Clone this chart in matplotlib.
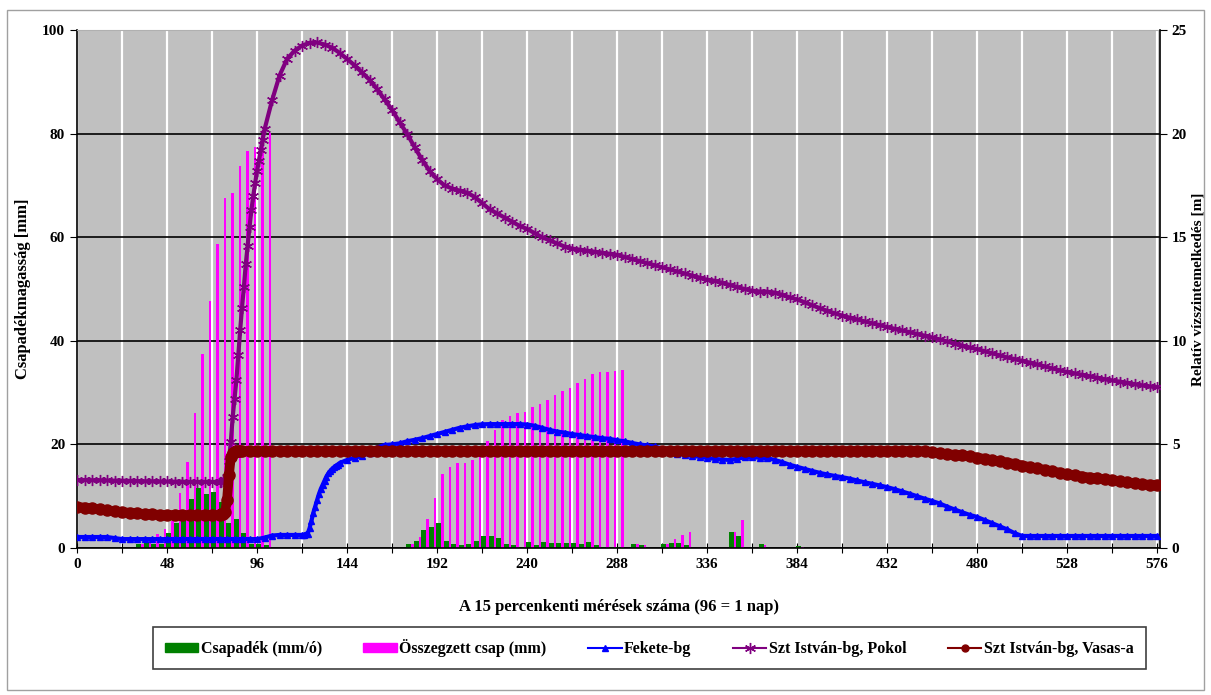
import numpy as np
import matplotlib.pyplot as plt
from matplotlib.patches import Patch, Rectangle
from matplotlib.lines import Line2D

plt.rcParams['font.family'] = ['Liberation Serif', 'DejaVu Serif']
plt.rcParams['font.weight'] = 'bold'

# hourly rain (mm/h), measurement index of each bar
rain_x = [33, 37, 41, 45, 49, 53, 57, 61, 65, 69, 73, 77, 81, 85, 89, 93, 97, 101,
          177, 181, 185, 189, 193, 197, 201, 205, 209, 213, 217, 221, 225, 229, 233,
          237, 241, 245, 249, 253, 257, 261, 265, 269, 273, 277, 281, 285, 289, 297, 301,
          313, 317, 321, 325, 349, 353, 365, 385]
rain_mm = [0.8, 1.2, 0.8, 0.8, 2.9, 4.8, 6.2, 9.5, 11.6, 10.5, 10.9, 8.9, 4.8, 5.6, 2.9, 0.8, 0.8, 0.5,
           0.7, 1.4, 3.5, 4.0, 4.8, 1.4, 0.7, 0.5, 0.7, 1.4, 2.3, 2.3, 2.0, 0.7, 0.5,
           0.2, 1.2, 0.5, 1.2, 1.0, 1.0, 1.0, 1.0, 0.8, 1.2, 0.5, 0.2, 0.2, 0.2, 0.7, 0.5,
           0.7, 1.0, 1.0, 0.6, 3.1, 2.3, 0.7, 0.3]

# summed rain (mm)
sum_x = [35, 39, 43, 47, 51, 55, 59, 63, 67, 71, 75, 79, 83, 87, 91, 95, 99, 103,
         179, 183, 187, 191, 195, 199, 203, 207, 211, 215, 219, 223, 227, 231, 235,
         239, 243, 247, 251, 255, 259, 263, 267, 271, 275, 279, 283, 287, 291, 299, 303,
         315, 319, 323, 327, 351, 355, 367, 387]
sum_mm = [0.8, 2.0, 2.8, 3.6, 5.2, 10.6, 16.6, 26.0, 37.4, 47.7, 58.7, 67.6, 68.5, 73.7, 76.6, 77.4, 79.7, 80.1,
          0.7, 2.1, 5.6, 9.7, 14.3, 15.6, 16.4, 16.4, 17.0, 18.5, 20.6, 22.8, 24.7, 25.5, 26.0,
          26.3, 27.2, 27.8, 28.6, 29.5, 30.3, 30.9, 31.8, 32.6, 33.6, 33.9, 34.0, 34.2, 34.3, 0.7, 0.5,
          0.7, 1.7, 2.5, 3.0, 3.1, 5.4, 0.6, 0.2]

# Szt István-bg, Pokol (m)
pokol_x = np.r_[0:77:4, 77:100, 100:577:4]
pokol_m = [3.28, 3.28, 3.27, 3.27, 3.26, 3.25, 3.25, 3.24, 3.23, 3.22,
           3.22, 3.21, 3.21, 3.20, 3.20, 3.19, 3.19, 3.19, 3.19, 3.19,
           3.20, 3.22, 3.30, 3.45, 4.2, 5.1, 6.3, 7.2, 8.1, 9.3, 10.5, 11.6,
           12.6, 13.7, 14.6, 15.5, 16.3, 17.0, 17.6, 18.2, 18.7, 19.2, 19.7,
           20.2, 21.6, 22.8, 23.6, 24.0, 24.25, 24.38, 24.4, 24.3, 24.15,
           23.9, 23.6, 23.3, 22.95, 22.6, 22.15, 21.65, 21.15, 20.55, 20.0,
           19.35, 18.75, 18.2, 17.8, 17.5, 17.35, 17.25, 17.15, 16.95, 16.65,
           16.35, 16.15, 15.95, 15.75, 15.55, 15.4, 15.2, 15.0, 14.85, 14.7,
           14.55, 14.45, 14.4, 14.35, 14.3, 14.25, 14.2, 14.15, 14.05, 13.95,
           13.85, 13.75, 13.65, 13.55, 13.45, 13.35, 13.25, 13.15, 13.05, 12.95,
           12.9, 12.8, 12.7, 12.6, 12.5, 12.42,
           12.38, 12.37, 12.33, 12.22, 12.1, 12.0, 11.86, 11.72, 11.58, 11.45,
           11.33, 11.22, 11.12, 11.03, 10.94, 10.85, 10.76, 10.67, 10.58, 10.5,
           10.42, 10.33, 10.25, 10.16, 10.07, 9.97, 9.87, 9.77, 9.68, 9.6,
           9.5, 9.4, 9.3, 9.2, 9.12, 9.04, 8.95, 8.86, 8.77, 8.67,
           8.58, 8.5, 8.43, 8.36, 8.29, 8.22, 8.15, 8.09, 8.03, 7.97,
           7.91, 7.85, 7.8, 7.77]

# Fekete-bg (m)
fekete_x = np.r_[0:121:4, 121:141, 144:577:4]
fekete_m = [0.53, 0.53, 0.53, 0.53, 0.53, 0.48, 0.43, 0.43, 0.43, 0.43,
            0.43, 0.43, 0.43, 0.43, 0.43, 0.43, 0.43, 0.43, 0.43, 0.43,
            0.43, 0.43, 0.43, 0.43, 0.43, 0.50, 0.60, 0.63, 0.63, 0.63, 0.63,
            0.64, 0.66, 0.70, 0.95, 1.3, 1.69, 2.0, 2.3, 2.6, 2.85,
            3.05, 3.25, 3.45, 3.6, 3.72, 3.82, 3.9, 3.97, 4.03, 4.1,
            4.25, 4.36, 4.44, 4.6, 4.85, 4.97, 5.0, 5.05, 5.15, 5.22,
            5.3, 5.4, 5.5, 5.6, 5.7, 5.8, 5.87, 5.93, 5.97, 5.98,
            5.98, 5.98, 5.98, 5.98, 5.96, 5.9, 5.8, 5.7, 5.62, 5.57,
            5.5, 5.45, 5.4, 5.35, 5.3, 5.27, 5.2, 5.15, 5.07, 5.0,
            4.95, 4.9, 4.8, 4.7, 4.55, 4.49, 4.45, 4.4, 4.35, 4.3,
            4.27, 4.25, 4.3, 4.38, 4.38, 4.36, 4.34, 4.25, 4.15, 4.02,
            3.92, 3.82, 3.72, 3.63, 3.55, 3.48, 3.42, 3.35, 3.26, 3.17,
            3.1, 3.02, 2.94, 2.84, 2.73, 2.62, 2.5, 2.38, 2.27, 2.15,
            2.0, 1.86, 1.73, 1.6, 1.5, 1.35, 1.2, 1.05, 0.9, 0.72,
            0.58, 0.58, 0.58, 0.58, 0.58, 0.58, 0.58, 0.58, 0.58, 0.58,
            0.58, 0.58, 0.58, 0.58, 0.58, 0.58, 0.58, 0.58, 0.58]

# Szt István-bg, Vasas-a (m)
vasas_x = np.r_[0:77:4, 77:88, 88:577:4]
vasas_m = [1.98, 1.95, 1.91, 1.87, 1.82, 1.77, 1.73, 1.70, 1.67, 1.64,
           1.62, 1.60, 1.59, 1.59, 1.59, 1.59, 1.59, 1.59, 1.59, 1.60,
           1.62, 1.66, 1.74, 2.3, 3.5, 4.39, 4.6, 4.65, 4.67, 4.68, 4.68,
           4.68, 4.68, 4.68, 4.68, 4.68, 4.68, 4.68, 4.68, 4.68, 4.68,
           4.68, 4.68, 4.68, 4.68, 4.68, 4.68, 4.68, 4.68, 4.68, 4.68,
           4.68, 4.68, 4.68, 4.68, 4.68, 4.68, 4.68, 4.68, 4.68, 4.68,
           4.68, 4.68, 4.68, 4.68, 4.68, 4.68, 4.68, 4.68, 4.68, 4.68,
           4.68, 4.68, 4.68, 4.68, 4.68, 4.68, 4.68, 4.68, 4.68, 4.68,
           4.68, 4.68, 4.68, 4.68, 4.68, 4.68, 4.68, 4.68, 4.68, 4.68,
           4.68, 4.68, 4.68, 4.68, 4.68, 4.68, 4.68, 4.68, 4.68, 4.68,
           4.68, 4.68, 4.68, 4.68, 4.68, 4.68, 4.68, 4.68, 4.68, 4.68,
           4.68, 4.68, 4.68, 4.68, 4.68, 4.68, 4.68, 4.68, 4.68, 4.68,
           4.68,
           4.66, 4.62, 4.57, 4.52, 4.5, 4.48, 4.42, 4.36, 4.3, 4.24,
           4.18, 4.12, 4.05, 3.98, 3.91, 3.84, 3.77, 3.7, 3.63, 3.56,
           3.5, 3.45, 3.4, 3.36, 3.32, 3.28, 3.22, 3.17, 3.12, 3.08,
           3.05, 3.04]

star = (6, 2, 0)

fig = plt.figure(figsize=(12.11, 6.95), dpi=100)
ax = fig.add_axes([0.0636, 0.2115, 0.8943, 0.7453])
ax.set_facecolor('#c0c0c0')
ax.set_axisbelow(True)

ax.bar(np.array(rain_x), rain_mm, width=2.6, color='#008000', zorder=2)
ax.bar(np.array(sum_x), sum_mm, width=1.3, color='#ff00ff', zorder=2)

ax.set_xlim(0, 577.6)
ax.set_ylim(0, 100)
ax.set_xticks(np.arange(0, 577, 24))
ax.set_xticklabels([str(v) if v % 48 == 0 else '' for v in range(0, 577, 24)])
ax.set_yticks(np.arange(0, 101, 20))
ax.grid(axis='x', color='white', lw=1.6)
ax.grid(axis='y', color='black', lw=1.2)
ax.tick_params(axis='x', direction='inout', length=7, labelsize=11, pad=4)
ax.tick_params(axis='y', direction='out', length=5, labelsize=11)
for s in ['left', 'bottom']:
    ax.spines[s].set_color('black')
    ax.spines[s].set_linewidth(1.2)
ax.spines['top'].set_color('#b0b0b0')
ax.spines['right'].set_visible(False)

ax.set_xlabel('A 15 percenkenti mérések száma (96 = 1 nap)', fontsize=12, fontweight='bold', labelpad=20)
ax.set_ylabel('Csapadékmagasság [mm]', fontsize=12, fontweight='bold', labelpad=8)

ax2 = ax.twinx()
ax2.set_ylim(0, 25)
ax2.set_yticks(np.arange(0, 26, 5))
ax2.tick_params(axis='y', direction='out', length=5, labelsize=11)
ax2.spines['right'].set_color('black')
ax2.spines['right'].set_linewidth(1.2)
ax2.spines['top'].set_visible(False)
ax2.spines['left'].set_visible(False)
ax2.spines['bottom'].set_visible(False)
ax2.set_ylabel('Relatív vízszintemelkedés [m]', fontsize=11, fontweight='bold', labelpad=3)

ax2.plot(fekete_x, fekete_m, color='#0000ff', lw=3, marker='^', ms=4, mec='#0000ff', zorder=3)
ax2.plot(pokol_x, pokol_m, color='#800080', lw=3, marker=star, ms=8, mew=1, zorder=4)
ax2.plot(vasas_x, vasas_m, color='#800000', lw=7, marker='o', ms=8, zorder=5)

handles = [
    Patch(color='#008000', label='Csapadék (mm/ó)'),
    Patch(color='#ff00ff', label='Összegzett csap (mm)'),
    Line2D([], [], color='#0000ff', marker='^', ms=4, label='Fekete-bg'),
    Line2D([], [], color='#800080', marker=star, ms=8, label='Szt István-bg, Pokol'),
    Line2D([], [], color='#800000', marker='o', ms=5, label='Szt István-bg, Vasas-a'),
]
leg = fig.legend(handles=handles, loc='center', bbox_to_anchor=(0.536, 0.067), ncol=5,
                 fancybox=False, edgecolor='#404040', framealpha=1, fontsize=11.5,
                 handlelength=2.1, handleheight=0.5, columnspacing=2.6, borderpad=0.75,
                 handletextpad=0.15)
leg.get_frame().set_linewidth(1.2)

fig.patches.append(Rectangle((0.006, 0.007), 0.988, 0.979, transform=fig.transFigure,
                             fill=False, edgecolor='#a0a0a0', lw=1))

fig.savefig('out.png', dpi=100)
